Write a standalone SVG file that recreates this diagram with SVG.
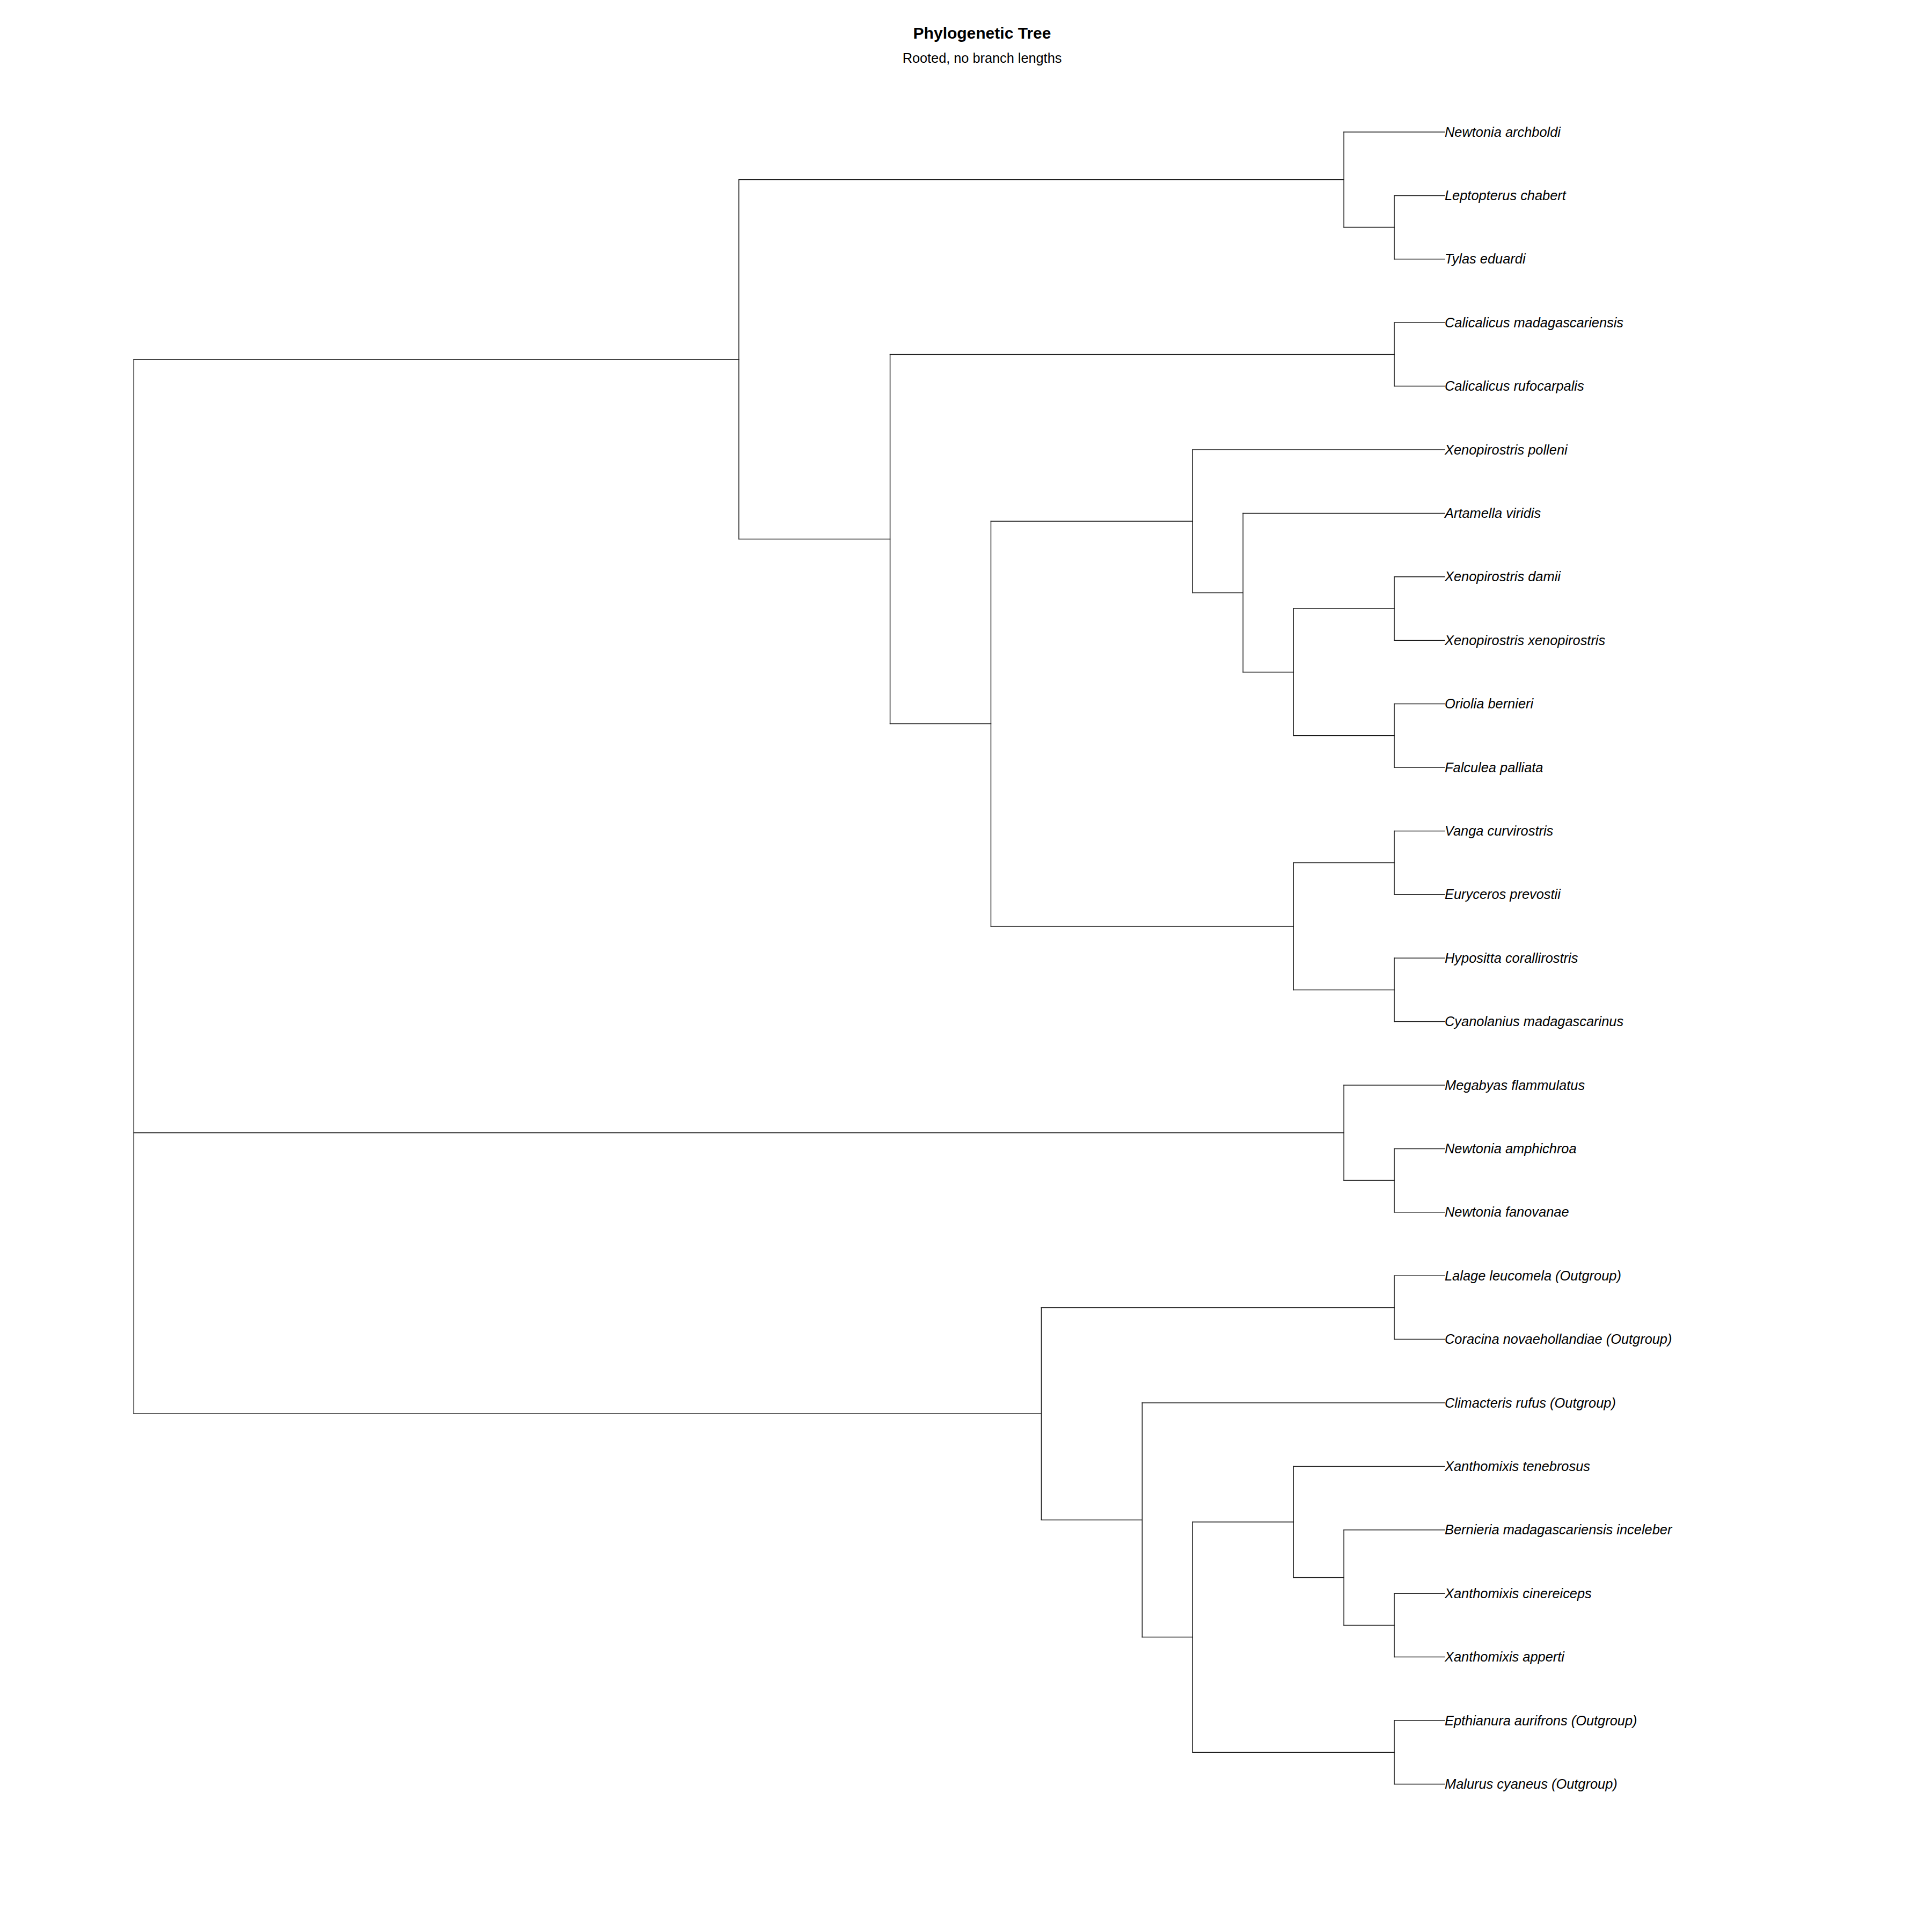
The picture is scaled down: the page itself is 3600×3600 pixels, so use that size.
<svg xmlns="http://www.w3.org/2000/svg" width="3600" height="3600" viewBox="0 0 3600 3600">
<style>
.title{font-family:"Liberation Sans",Arial,sans-serif;font-size:30px;font-weight:bold;fill:#000;text-anchor:middle}
.sub{font-family:"Liberation Sans",Arial,sans-serif;font-size:25.3px;fill:#000;text-anchor:middle}
.leaf text{font-family:"Liberation Sans",Arial,sans-serif;font-size:25.4px;font-style:italic;fill:#000}
#edges path{fill:none;stroke:#1a1a1a;stroke-width:1.5;stroke-linecap:square}
</style>
<rect width="3600" height="3600" fill="#fff"/>
<text class="title" x="1830" y="72">Phylogenetic Tree</text>
<text class="sub" x="1830" y="116.5">Rooted, no branch lengths</text>
<g id="edges">
<!-- root -->
<path d="M249.3 669.65V2634.3"/>
<path d="M249.3 669.65H1376.7"/>
<path d="M249.3 2110.8H2504.1"/>
<path d="M249.3 2634.3H1940.4"/>
<!-- clade A -->
<path d="M1376.7 334.8V1004.5"/>
<path d="M1376.7 334.8H2504.1"/>
<path d="M1376.7 1004.5H1658.55"/>
<path d="M2504.1 246V423.6"/>
<path d="M2504.1 246H2692"/>
<path d="M2504.1 423.6H2598.05"/>
<path d="M2598.05 364.4V482.8"/>
<path d="M2598.05 364.4H2692"/>
<path d="M2598.05 482.8H2692"/>
<path d="M1658.55 660.4V1348.6"/>
<path d="M1658.55 660.4H2598.05"/>
<path d="M1658.55 1348.6H1846.45"/>
<path d="M2598.05 601.2V719.6"/>
<path d="M2598.05 601.2H2692"/>
<path d="M2598.05 719.6H2692"/>
<path d="M1846.45 971.2V1726"/>
<path d="M1846.45 971.2H2222.25"/>
<path d="M1846.45 1726H2410.15"/>
<path d="M2222.25 838V1104.4"/>
<path d="M2222.25 838H2692"/>
<path d="M2222.25 1104.4H2316.2"/>
<path d="M2316.2 956.4V1252.4"/>
<path d="M2316.2 956.4H2692"/>
<path d="M2316.2 1252.4H2410.15"/>
<path d="M2410.15 1134V1370.8"/>
<path d="M2410.15 1134H2598.05"/>
<path d="M2410.15 1370.8H2598.05"/>
<path d="M2598.05 1074.8V1193.2"/>
<path d="M2598.05 1074.8H2692"/>
<path d="M2598.05 1193.2H2692"/>
<path d="M2598.05 1311.6V1430"/>
<path d="M2598.05 1311.6H2692"/>
<path d="M2598.05 1430H2692"/>
<path d="M2410.15 1607.6V1844.4"/>
<path d="M2410.15 1607.6H2598.05"/>
<path d="M2410.15 1844.4H2598.05"/>
<path d="M2598.05 1548.4V1666.8"/>
<path d="M2598.05 1548.4H2692"/>
<path d="M2598.05 1666.8H2692"/>
<path d="M2598.05 1785.2V1903.6"/>
<path d="M2598.05 1785.2H2692"/>
<path d="M2598.05 1903.6H2692"/>
<!-- clade B -->
<path d="M2504.1 2022V2199.6"/>
<path d="M2504.1 2022H2692"/>
<path d="M2504.1 2199.6H2598.05"/>
<path d="M2598.05 2140.4V2258.8"/>
<path d="M2598.05 2140.4H2692"/>
<path d="M2598.05 2258.8H2692"/>
<!-- clade C -->
<path d="M1940.4 2436.4V2832.3"/>
<path d="M1940.4 2436.4H2598.05"/>
<path d="M1940.4 2832.3H2128.3"/>
<path d="M2598.05 2377.2V2495.6"/>
<path d="M2598.05 2377.2H2692"/>
<path d="M2598.05 2495.6H2692"/>
<path d="M2128.3 2614V3050.6"/>
<path d="M2128.3 2614H2692"/>
<path d="M2128.3 3050.6H2222.25"/>
<path d="M2222.25 2836V3265.2"/>
<path d="M2222.25 2836H2410.15"/>
<path d="M2222.25 3265.2H2598.05"/>
<path d="M2410.15 2732.4V2939.6"/>
<path d="M2410.15 2732.4H2692"/>
<path d="M2410.15 2939.6H2504.1"/>
<path d="M2504.1 2850.8V3028.4"/>
<path d="M2504.1 2850.8H2692"/>
<path d="M2504.1 3028.4H2598.05"/>
<path d="M2598.05 2969.2V3087.6"/>
<path d="M2598.05 2969.2H2692"/>
<path d="M2598.05 3087.6H2692"/>
<path d="M2598.05 3206V3324.4"/>
<path d="M2598.05 3206H2692"/>
<path d="M2598.05 3324.4H2692"/>
</g>
<g id="leaf-newtonia-archboldi" class="leaf"><text x="2692" y="254.5">Newtonia archboldi</text></g>
<g id="leaf-leptopterus-chabert" class="leaf"><text x="2692" y="372.9">Leptopterus chabert</text></g>
<g id="leaf-tylas-eduardi" class="leaf"><text x="2692" y="491.3">Tylas eduardi</text></g>
<g id="leaf-calicalicus-madagascariensis" class="leaf"><text x="2692" y="609.7">Calicalicus madagascariensis</text></g>
<g id="leaf-calicalicus-rufocarpalis" class="leaf"><text x="2692" y="728.1">Calicalicus rufocarpalis</text></g>
<g id="leaf-xenopirostris-polleni" class="leaf"><text x="2692" y="846.5">Xenopirostris polleni</text></g>
<g id="leaf-artamella-viridis" class="leaf"><text x="2692" y="964.9">Artamella viridis</text></g>
<g id="leaf-xenopirostris-damii" class="leaf"><text x="2692" y="1083.3">Xenopirostris damii</text></g>
<g id="leaf-xenopirostris-xenopirostris" class="leaf"><text x="2692" y="1201.7">Xenopirostris xenopirostris</text></g>
<g id="leaf-oriolia-bernieri" class="leaf"><text x="2692" y="1320.1">Oriolia bernieri</text></g>
<g id="leaf-falculea-palliata" class="leaf"><text x="2692" y="1438.5">Falculea palliata</text></g>
<g id="leaf-vanga-curvirostris" class="leaf"><text x="2692" y="1556.9">Vanga curvirostris</text></g>
<g id="leaf-euryceros-prevostii" class="leaf"><text x="2692" y="1675.3">Euryceros prevostii</text></g>
<g id="leaf-hypositta-corallirostris" class="leaf"><text x="2692" y="1793.7">Hypositta corallirostris</text></g>
<g id="leaf-cyanolanius-madagascarinus" class="leaf"><text x="2692" y="1912.1">Cyanolanius madagascarinus</text></g>
<g id="leaf-megabyas-flammulatus" class="leaf"><text x="2692" y="2030.5">Megabyas flammulatus</text></g>
<g id="leaf-newtonia-amphichroa" class="leaf"><text x="2692" y="2148.9">Newtonia amphichroa</text></g>
<g id="leaf-newtonia-fanovanae" class="leaf"><text x="2692" y="2267.3">Newtonia fanovanae</text></g>
<g id="leaf-lalage-leucomela" class="leaf"><text x="2692" y="2385.7">Lalage leucomela (Outgroup)</text></g>
<g id="leaf-coracina-novaehollandiae" class="leaf"><text x="2692" y="2504.1">Coracina novaehollandiae (Outgroup)</text></g>
<g id="leaf-climacteris-rufus" class="leaf"><text x="2692" y="2622.5">Climacteris rufus (Outgroup)</text></g>
<g id="leaf-xanthomixis-tenebrosus" class="leaf"><text x="2692" y="2740.9">Xanthomixis tenebrosus</text></g>
<g id="leaf-bernieria-madagascariensis-inceleber" class="leaf"><text x="2692" y="2859.3">Bernieria madagascariensis inceleber</text></g>
<g id="leaf-xanthomixis-cinereiceps" class="leaf"><text x="2692" y="2977.7">Xanthomixis cinereiceps</text></g>
<g id="leaf-xanthomixis-apperti" class="leaf"><text x="2692" y="3096.1">Xanthomixis apperti</text></g>
<g id="leaf-epthianura-aurifrons" class="leaf"><text x="2692" y="3214.5">Epthianura aurifrons (Outgroup)</text></g>
<g id="leaf-malurus-cyaneus" class="leaf"><text x="2692" y="3332.9">Malurus cyaneus (Outgroup)</text></g>
</svg>
